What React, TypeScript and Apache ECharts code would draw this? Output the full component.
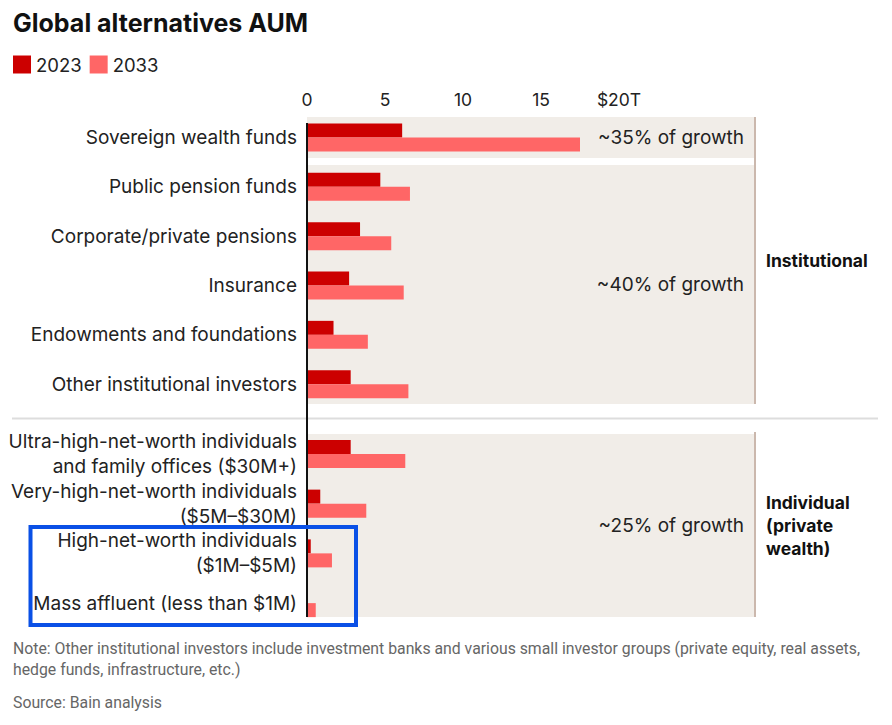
import React, { useEffect, useRef } from "react";
import * as echarts from "echarts";

const institutionalCategories = [
  "Sovereign wealth funds",
  "Public pension funds",
  "Corporate/private pensions",
  "Insurance",
  "Endowments and foundations",
  "Other institutional investors",
];
const institutional2023 = [6.1, 4.7, 3.4, 2.7, 1.7, 2.8];
const institutional2033 = [17.5, 6.6, 5.4, 6.2, 3.9, 6.5];

const individualCategories = [
  "Ultra-high-net-worth individuals\nand family offices ($30M+)",
  "Very-high-net-worth individuals\n($5M–$30M)",
  "High-net-worth individuals\n($1M–$5M)",
  "Mass affluent (less than $1M)",
];
const individual2023 = [2.8, 0.85, 0.24, 0];
const individual2033 = [6.3, 3.8, 1.6, 0.56];

const xTickLabels: Record<number, string> = { 0: "0", 5: "5", 10: "10", 15: "15", 20: "$20T" };

const growthLabels = ["~35% of growth", "~40% of growth", "~25% of growth"];
const sectionLabels = ["Institutional", "Individual\n(private\nwealth)"];

const COLOR_2023 = "#CC0000";
const COLOR_2033 = "#FF6666";
const FONT = "Inter, 'Noto Sans', sans-serif";

export default function App() {
  const ref = useRef<HTMLDivElement>(null);
  useEffect(() => {
    document.body.style.margin = "0";
    if (!ref.current) return;
    const chart = echarts.init(ref.current, null, { renderer: "svg" });
    const axisMax = 448 / 15.6;
    const yLabel = {
      color: "#222",
      fontSize: 19,
      fontFamily: FONT,
      lineHeight: 25,
      margin: 10,
      interval: 0,
      align: "right" as const,
    };
    const panel = "#F1EDE8";
    const border = "#CBB8AD";
    chart.setOption({
      animation: false,
      textStyle: { fontFamily: FONT },
      title: {
        text: "Global alternatives AUM",
        left: 13,
        top: 10,
        padding: 0,
        textStyle: { fontSize: 25, fontWeight: "bold", color: "#111", fontFamily: FONT },
      },
      legend: {
        left: 13,
        top: 55,
        padding: 0,
        icon: "rect",
        itemWidth: 18,
        itemHeight: 18,
        itemGap: 8,
        data: ["2023", "2033"],
        textStyle: { fontSize: 18.5, color: "#222", fontFamily: FONT },
      },
      grid: [
        { left: 307, top: 112.85, width: 448, height: 296 },
        { left: 307, top: 429, width: 448, height: 199 },
      ],
      xAxis: [
        {
          type: "value",
          gridIndex: 0,
          position: "top",
          min: 0,
          max: axisMax,
          interval: 5,
          splitLine: { show: false },
          axisLine: { show: false },
          axisTick: { show: false },
          axisLabel: {
            showMaxLabel: false,
            margin: 4,
            fontSize: 17.5,
            color: "#222",
            fontFamily: FONT,
            formatter: (v: number) => xTickLabels[v] ?? "",
          },
        },
        {
          type: "value",
          gridIndex: 1,
          min: 0,
          max: axisMax,
          interval: 5,
          show: false,
        },
      ],
      yAxis: [
        {
          type: "category",
          gridIndex: 0,
          inverse: true,
          data: institutionalCategories,
          axisLine: { show: false },
          axisTick: { show: false },
          axisLabel: yLabel,
        },
        {
          type: "category",
          gridIndex: 1,
          inverse: true,
          data: individualCategories,
          axisLine: { show: false },
          axisTick: { show: false },
          axisLabel: yLabel,
        },
      ],
      series: [
        { name: "2023", type: "bar", xAxisIndex: 0, yAxisIndex: 0, data: institutional2023, barWidth: 14, barGap: "0%", itemStyle: { color: COLOR_2023 }, z: 3 },
        { name: "2033", type: "bar", xAxisIndex: 0, yAxisIndex: 0, data: institutional2033, barWidth: 14, barGap: "0%", itemStyle: { color: COLOR_2033 }, z: 3 },
        { name: "2023", type: "bar", xAxisIndex: 1, yAxisIndex: 1, data: individual2023, barWidth: 14, barGap: "0%", itemStyle: { color: COLOR_2023 }, z: 3 },
        { name: "2033", type: "bar", xAxisIndex: 1, yAxisIndex: 1, data: individual2033, barWidth: 14, barGap: "0%", itemStyle: { color: COLOR_2033 }, z: 3 },
      ],
      graphic: [
        { type: "rect", z: -10, shape: { x: 307, y: 117, width: 448, height: 41 }, style: { fill: panel } },
        { type: "rect", z: -10, shape: { x: 307, y: 165, width: 448, height: 239 }, style: { fill: panel } },
        { type: "rect", z: -10, shape: { x: 307, y: 434, width: 448, height: 183 }, style: { fill: panel } },
        { type: "line", z: -5, shape: { x1: 755, y1: 117, x2: 755, y2: 404 }, style: { stroke: border, lineWidth: 2 } },
        { type: "line", z: -5, shape: { x1: 755, y1: 432, x2: 755, y2: 617 }, style: { stroke: border, lineWidth: 2 } },
        { type: "line", z: -5, shape: { x1: 12, y1: 418.5, x2: 878, y2: 418.5 }, style: { stroke: "#DDDDDD", lineWidth: 2 } },
        { type: "line", z: 10, shape: { x1: 307, y1: 123, x2: 307, y2: 617 }, style: { stroke: "#111", lineWidth: 2 } },
        { type: "text", z: 10, x: 744, y: 137, style: { text: growthLabels[0], fill: "#222", fontSize: 19, fontFamily: FONT, align: "right", verticalAlign: "middle" } },
        { type: "text", z: 10, x: 744, y: 284, style: { text: growthLabels[1], fill: "#222", fontSize: 19, fontFamily: FONT, align: "right", verticalAlign: "middle" } },
        { type: "text", z: 10, x: 744, y: 525, style: { text: growthLabels[2], fill: "#222", fontSize: 19, fontFamily: FONT, align: "right", verticalAlign: "middle" } },
        { type: "text", z: 10, x: 766, y: 260, style: { text: sectionLabels[0], fill: "#111", fontSize: 17.5, fontWeight: "bold", fontFamily: FONT, align: "left", verticalAlign: "middle" } },
        { type: "text", z: 10, x: 766, y: 525, style: { text: sectionLabels[1], fill: "#111", fontSize: 17.5, fontWeight: "bold", fontFamily: FONT, lineHeight: 23, align: "left", verticalAlign: "middle" } },
        { type: "rect", z: 20, shape: { x: 30.5, y: 527, width: 325.5, height: 98 }, style: { fill: "none", stroke: "#0A50E6", lineWidth: 4 } },
        {
          type: "text", z: 10, x: 13, y: 638,
          style: {
            text: "Note: Other institutional investors include investment banks and various small investor groups (private equity, real assets,\nhedge funds, infrastructure, etc.)",
            fill: "#666", fontSize: 15.8, lineHeight: 21, fontFamily: "Roboto, sans-serif", align: "left", verticalAlign: "top",
          },
        },
        { type: "text", z: 10, x: 13, y: 694, style: { text: "Source: Bain analysis", fill: "#666", fontSize: 15.8, fontFamily: "Roboto, sans-serif", align: "left", verticalAlign: "top" } },
      ],
    });
    return () => chart.dispose();
  }, []);
  return <div ref={ref} style={{ width: 892, height: 725 }} />;
}
